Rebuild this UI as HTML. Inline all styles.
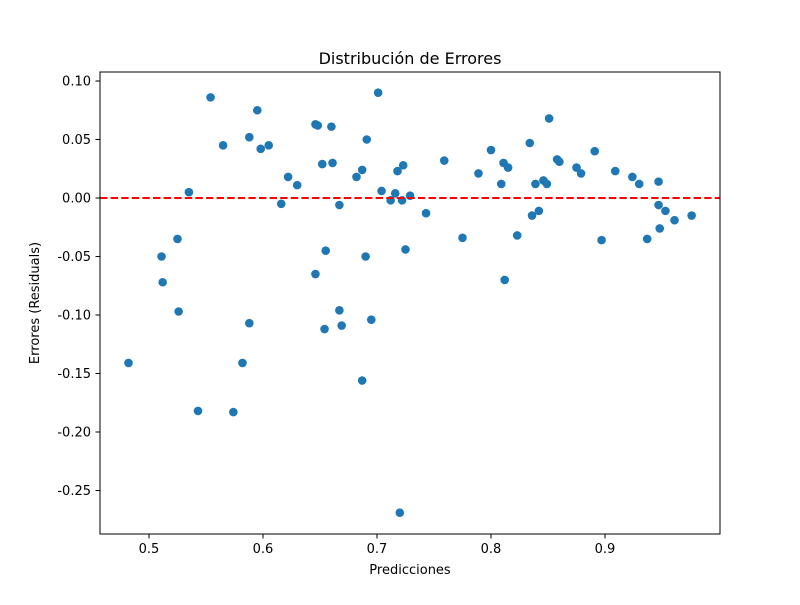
<!DOCTYPE html>
<html><head><meta charset="utf-8"><style>body{margin:0;background:#fff}svg text{font-family:"DejaVu Sans","Liberation Sans",sans-serif;fill:#000}</style></head>
<body>
<svg id="chart" width="800" height="600">
<rect width="800" height="600" fill="#fff"/>
<text x="410" y="64" font-size="16" text-anchor="middle">Distribución de Errores</text>
<text x="410" y="574" font-size="13" text-anchor="middle">Predicciones</text>
<text transform="translate(39,303) rotate(-90)" font-size="13" text-anchor="middle">Errores (Residuals)</text>
<g id="ticks"></g>
<g id="marks"></g>
<rect x="100" y="72" width="620" height="462" fill="none" stroke="#000" stroke-width="1"/>
</svg>
<script>
const xTicks=[0.5,0.6,0.7,0.8,0.9];
const yTicks=[0.10,0.05,0.00,-0.05,-0.10,-0.15,-0.20,-0.25];
const preds=[0.482,0.511,0.512,0.525,0.526,0.535,0.543,0.554,0.565,0.574,0.582,0.588,0.588,0.595,0.598,0.605,0.616,0.622,0.630,0.646,0.648,0.646,0.652,0.654,0.655,0.660,0.661,0.667,0.667,0.669,0.682,0.687,0.687,0.690,0.691,0.695,0.701,0.704,0.712,0.716,0.718,0.722,0.723,0.725,0.729,0.743,0.759,0.775,0.789,0.800,0.809,0.811,0.812,0.815,0.823,0.834,0.836,0.839,0.842,0.846,0.849,0.851,0.858,0.860,0.875,0.879,0.891,0.897,0.909,0.924,0.930,0.937,0.947,0.947,0.948,0.953,0.961,0.976,0.720];
const resid=[-0.141,-0.050,-0.072,-0.035,-0.097,0.005,-0.182,0.086,0.045,-0.183,-0.141,0.052,-0.107,0.075,0.042,0.045,-0.005,0.018,0.011,0.063,0.062,-0.065,0.029,-0.112,-0.045,0.061,0.030,-0.006,-0.096,-0.109,0.018,0.024,-0.156,-0.050,0.050,-0.104,0.090,0.006,-0.002,0.004,0.023,-0.002,0.028,-0.044,0.002,-0.013,0.032,-0.034,0.021,0.041,0.012,0.030,-0.070,0.026,-0.032,0.047,-0.015,0.012,-0.011,0.015,0.012,0.068,0.033,0.031,0.026,0.021,0.040,-0.036,0.023,0.018,0.012,-0.035,0.014,-0.006,-0.026,-0.011,-0.019,-0.015,-0.269];
const NS="http://www.w3.org/2000/svg";
function X(v){return 149+(v-0.5)*1140;}
function Y(v){return 198-v*1170;}
const tg=document.getElementById('ticks'),mg=document.getElementById('marks');
function mk(tag,attrs,parent){const e=document.createElementNS(NS,tag);for(const k in attrs)e.setAttribute(k,attrs[k]);parent.appendChild(e);return e;}
xTicks.forEach(t=>{
  const l=mk('line',{x1:X(t),x2:X(t),y1:534,y2:538.5,stroke:'#000'},tg);
  
  
  const tx=mk('text',{x:X(t),y:553,'font-size':13,'text-anchor':'middle'},tg);
  tx.textContent=t.toFixed(1);
  
  
});
yTicks.forEach(t=>{
  const l=mk('line',{x1:95.5,x2:100,y1:Y(t),y2:Y(t),stroke:'#000'},tg);
  
  
  const tx=mk('text',{x:91,y:Y(t)+4.5,'font-size':13,'text-anchor':'end'},tg);
  tx.textContent=(t===0?'0.00':t.toFixed(2));
  
  
});
preds.forEach((p,i)=>{
  const c=mk('circle',{cx:X(p),cy:Y(resid[i]),r:4.3,fill:'#1f77b4'},mg);
  
  
});
const zl=mk('line',{x1:100,x2:720,y1:Y(0),y2:Y(0),stroke:'#ff0000','stroke-width':2,'stroke-dasharray':'7.4,3.2'},mg);


</script>
</body></html>
